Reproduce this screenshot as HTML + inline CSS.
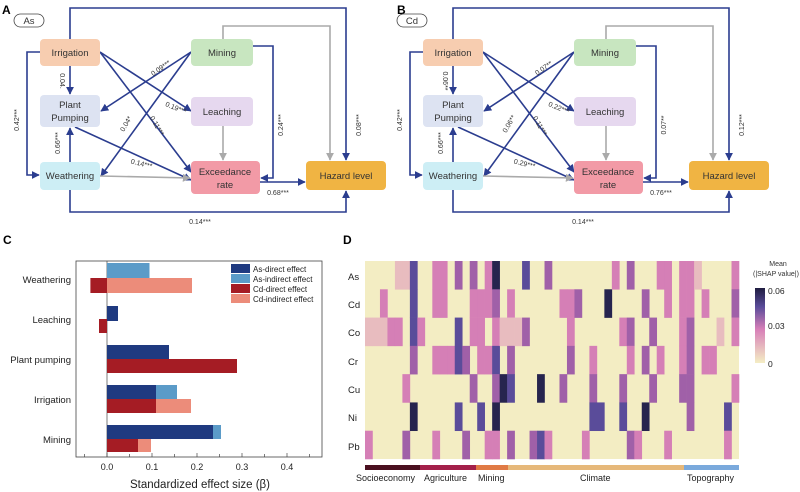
<!DOCTYPE html>
<html><head><meta charset="utf-8"><style>
html,body{margin:0;padding:0;background:#fff;}
svg{display:block;font-family:"Liberation Sans",Arial,sans-serif;}
</style></head><body>
<svg id="s" width="800" height="492" viewBox="0 0 800 492" xmlns="http://www.w3.org/2000/svg">
<defs>
<marker id="ab" viewBox="0 0 10 10" refX="9" refY="5" markerWidth="5" markerHeight="5" orient="auto"><path d="M0,0L10,5L0,10z" fill="#2b3d8f"/></marker>
<marker id="ag" viewBox="0 0 10 10" refX="9" refY="5" markerWidth="5" markerHeight="5" orient="auto"><path d="M0,0L10,5L0,10z" fill="#aaa"/></marker>
</defs>
<text x="2" y="14" font-size="12" font-weight="bold">A</text>
<text x="397" y="14" font-size="12" font-weight="bold">B</text>
<text x="3" y="244" font-size="12" font-weight="bold">C</text>
<text x="343" y="244" font-size="12" font-weight="bold">D</text>
<g id="gA"></g>
<g id="gB" transform="translate(383,0)"></g>

<!-- Panel C -->
<g font-size="9.5" fill="#222">
<rect x="76" y="261" width="246" height="196" fill="none" stroke="#444" stroke-width="0.8"/>
<line x1="107" y1="261" x2="107" y2="457" stroke="#444" stroke-width="0.7"/>
<!-- bars -->
<rect x="107" y="263" width="42.5" height="15" fill="#5b9bc8"/>
<rect x="90.4" y="278" width="16.6" height="15" fill="#a51c24"/>
<rect x="107" y="278" width="85" height="15" fill="#ec8c7a"/>
<rect x="107" y="306" width="11" height="15" fill="#1f3a80"/>
<rect x="99" y="319" width="8" height="14" fill="#a51c24"/>
<rect x="107" y="345" width="62" height="14" fill="#1f3a80"/>
<rect x="107" y="359" width="130" height="14" fill="#a51c24"/>
<rect x="107" y="385" width="49" height="14" fill="#1f3a80"/>
<rect x="156" y="385" width="21" height="14" fill="#5b9bc8"/>
<rect x="107" y="399" width="49" height="14" fill="#a51c24"/>
<rect x="156" y="399" width="35" height="14" fill="#ec8c7a"/>
<rect x="107" y="425" width="106" height="14" fill="#1f3a80"/>
<rect x="213" y="425" width="8" height="14" fill="#5b9bc8"/>
<rect x="107" y="439" width="31" height="13" fill="#a51c24"/>
<rect x="138" y="439" width="13" height="13" fill="#ec8c7a"/>
<g text-anchor="end"><text x="71" y="283">Weathering</text><text x="71" y="323">Leaching</text><text x="71" y="363">Plant pumping</text><text x="71" y="403">Irrigation</text><text x="71" y="443">Mining</text></g>
<g stroke="#444" stroke-width="0.7">
<line x1="84.5" y1="457" x2="84.5" y2="454"/><line x1="107" y1="457" x2="107" y2="453"/><line x1="129.5" y1="457" x2="129.5" y2="454"/><line x1="152" y1="457" x2="152" y2="453"/><line x1="174.5" y1="457" x2="174.5" y2="454"/><line x1="197" y1="457" x2="197" y2="453"/><line x1="219.5" y1="457" x2="219.5" y2="454"/><line x1="242" y1="457" x2="242" y2="453"/><line x1="264.5" y1="457" x2="264.5" y2="454"/><line x1="287" y1="457" x2="287" y2="453"/><line x1="309.5" y1="457" x2="309.5" y2="454"/>
</g>
<g text-anchor="middle" font-size="9"><text x="107" y="470">0.0</text><text x="152" y="470">0.1</text><text x="197" y="470">0.2</text><text x="242" y="470">0.3</text><text x="287" y="470">0.4</text></g>
<text x="200" y="488" text-anchor="middle" font-size="11.5">Standardized effect size (β)</text>
<g font-size="8">
<rect x="231" y="264" width="19" height="9" fill="#1f3a80"/><text x="253" y="272">As-direct effect</text>
<rect x="231" y="274" width="19" height="9" fill="#5b9bc8"/><text x="253" y="282">As-indirect effect</text>
<rect x="231" y="284" width="19" height="9" fill="#a51c24"/><text x="253" y="292">Cd-direct effect</text>
<rect x="231" y="294" width="19" height="9" fill="#ec8c7a"/><text x="253" y="302">Cd-indirect effect</text>
</g>
</g>

<!-- Panel D -->
<g id="hm"></g>
<g font-size="9.5" fill="#222">
<text x="348" y="280">As</text><text x="348" y="308">Cd</text><text x="348" y="336">Co</text><text x="348" y="365">Cr</text><text x="348" y="393">Cu</text><text x="348" y="421">Ni</text><text x="348" y="450">Pb</text>
</g>
<rect x="365" y="465" width="55" height="5" fill="#4a1020"/>
<rect x="420" y="465" width="56" height="5" fill="#a3204a"/>
<rect x="476" y="465" width="32" height="5" fill="#e07a45"/>
<rect x="508" y="465" width="176" height="5" fill="#e6b87a"/>
<rect x="684" y="465" width="55" height="5" fill="#7aa9dc"/>
<g font-size="9" fill="#222"><text x="356" y="481">Socioeconomy</text><text x="424" y="481">Agriculture</text><text x="478" y="481">Mining</text><text x="580" y="481">Climate</text><text x="687" y="481">Topography</text></g>
<defs><linearGradient id="cb" x1="0" y1="1" x2="0" y2="0"><stop offset="0" stop-color="#f4eec4"/><stop offset="0.45" stop-color="#d77fb8"/><stop offset="0.75" stop-color="#5a4c9a"/><stop offset="1" stop-color="#1f1d40"/></linearGradient></defs>
<rect x="755" y="288" width="10" height="75" fill="url(#cb)"/>
<g font-size="8.5" fill="#222"><text x="768" y="294">0.06</text><text x="768" y="329">0.03</text><text x="768" y="367">0</text></g>
<g font-size="7" fill="#333" text-anchor="middle"><text x="778" y="266">Mean</text><text x="776" y="276">(|SHAP value|)</text></g>
</svg>
<script>
var NS="http://www.w3.org/2000/svg";
function el(p,t,a,txt){var e=document.createElementNS(NS,t);for(var k in a)e.setAttribute(k,a[k]);if(txt)e.textContent=txt;p.appendChild(e);return e;}
function diagram(g,lab,L){
 var B="#2b3d8f",G="#aaa";
 function ln(pts,c){el(g,"polyline",{points:pts,fill:"none",stroke:c,"stroke-width":1.6,"marker-end":c==B?"url(#ab)":"url(#ag)"});}
 ln("70,39 70,8 346,8 346,160",B);
 ln("223,39 223,26 330,26 330,160",G);
 ln("253,46 273,46 273,178 261,178",B);
 ln("70,190 70,212 346,212 346,191",B);
 ln("40,52 27,52 27,175 39,175",B);
 ln("100,52 191,111",B);
 ln("100,52 191,172",B);
 ln("70,66 70,94",B);
 ln("191,52 101,111",B);
 ln("191,52 101,176",B);
 ln("70,162 70,128",B);
 ln("75,127 191,180",B);
 ln("100,176 190,178",G);
 ln("223,126 223,160",G);
 ln("260,182 305,182",B);
 var bx=[["Irrigation",40,39,60,27,"#f7cdb0"],["Mining",191,39,62,27,"#c8e6c0"],["Leaching",191,97,62,29,"#e6d8ef"],["Hazard level",306,161,80,29,"#f0b443"]];
 bx.forEach(function(b){el(g,"rect",{x:b[1],y:b[2],width:b[3],height:b[4],rx:4,fill:b[5]});el(g,"text",{x:b[1]+b[3]/2,y:b[2]+b[4]/2+3.5,"font-size":9.5,"text-anchor":"middle",fill:"#333"},b[0]);});
 el(g,"rect",{x:40,y:95,width:60,height:32,rx:4,fill:"#dde3f2"});
 el(g,"text",{x:70,y:108,"font-size":9.5,"text-anchor":"middle",fill:"#333"},"Plant");
 el(g,"text",{x:70,y:121,"font-size":9.5,"text-anchor":"middle",fill:"#333"},"Pumping");
 el(g,"rect",{x:40,y:162,width:60,height:28,rx:4,fill:"#cdeef5"});
 el(g,"text",{x:70,y:179,"font-size":9.5,"text-anchor":"middle",fill:"#333"},"Weathering");
 el(g,"rect",{x:191,y:161,width:69,height:33,rx:4,fill:"#f29aa6"});
 el(g,"text",{x:225,y:175,"font-size":9.5,"text-anchor":"middle",fill:"#333"},"Exceedance");
 el(g,"text",{x:225,y:188,"font-size":9.5,"text-anchor":"middle",fill:"#333"},"rate");
 el(g,"rect",{x:14,y:14,width:30,height:13,rx:6.5,fill:"#fff",stroke:"#444","stroke-width":0.8});
 el(g,"text",{x:29,y:24,"font-size":9.5,"text-anchor":"middle",fill:"#333"},lab);
 L.forEach(function(l){el(g,"text",{x:l[1],y:l[2],"font-size":7,"text-anchor":"middle",fill:"#333",transform:"rotate("+l[3]+" "+l[1]+" "+l[2]+")"},l[0]);});
}
diagram(document.getElementById("gA"),"As",[["0.09***",162,70,-35],["0.19***",175,110,22],["0.04*",128,125,-60],["0.11***",155,127,60],["0.14***",141,166,14],["0.24***",283,125,-90],["0.08***",361,125,-90],["0.42***",19,120,-90],["0.04.",60,81,90],["0.66***",60,143,-90],["0.68***",278,195,0],["0.14***",200,224,0]]);
diagram(document.getElementById("gB"),"Cd",[["0.07**",162,70,-35],["0.22***",175,110,22],["0.06**",128,125,-60],["0.11***",155,127,60],["0.29***",141,166,14],["0.07**",283,125,-90],["0.12***",361,125,-90],["0.42***",19,120,-90],["0.06**",60,81,90],["0.66***",60,143,-90],["0.76***",278,195,0],["0.14***",200,224,0]]);
var cols=["..l...p","..l....",".pl....","..p....","l.p....","l...p.m","bbbm.d.","..p....",".......","pp.p..p","pp.p...","...p...","m.bb.b.","...m..m","mpp.m..",".ppp.b.","pp.p..p","dmpbmdp","..l.d..",".plmb.m","..l....","b.m....","......m","....d.b","m.....p",".......",".p..m..",".ppm...",".m.....","......p","...pmb.",".....b.",".d.....","p......","..p.mb.","m.mp..m","......p",".m.m.d.","..m.m..","p..p...","pp....p",".......","ppppm..","ppmmmm.","l......",".p.p...","...p...","..l....",".....bp","pmp.p.."];
var C={".":"#f3edc3","l":"#e8bcbf","p":"#d57fb6","m":"#a060a8","b":"#5a4c9a","d":"#26244e"};
var hm=document.getElementById("hm");
el(hm,"rect",{x:365,y:261,width:374,height:198,fill:C["."]});
var cw=374/50,rh=198/7;
cols.forEach(function(c,i){for(var r=0;r<7;r++){var ch=c[r];if(ch!=".")el(hm,"rect",{x:365+i*cw,y:261+r*rh,width:cw+0.3,height:rh+0.3,fill:C[ch]});}});
</script>
</body></html>
